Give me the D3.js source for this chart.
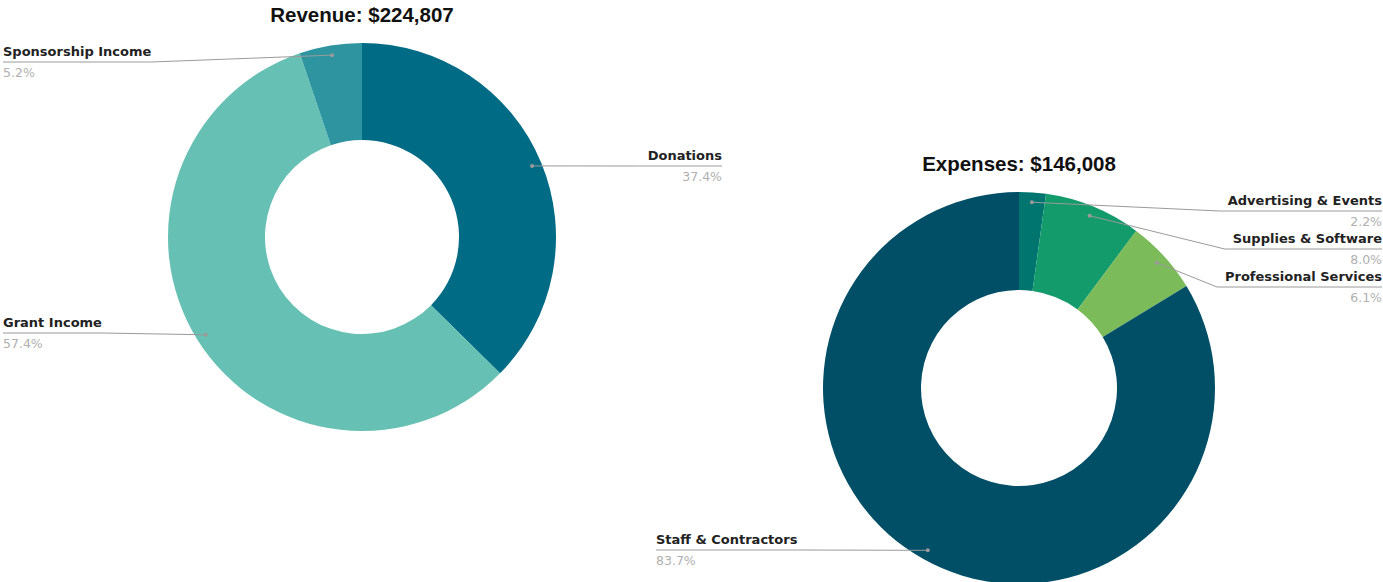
<!DOCTYPE html>
<html>
<head>
  <title>Revenue and expenses</title>
  <script src="https://d3js.org/d3.v7.min.js"></script>
  <style>
    body { margin: 0; background: #fff; }
    text { font-family: "DejaVu Sans", Verdana, sans-serif; }
    text.title { font-family: "Liberation Sans", Arial, sans-serif; }
  </style>
</head>
<body>
<script>
// Revenue (share of total, %)
var revenueLabels = ['Donations', 'Grant Income', 'Sponsorship Income'];
var revenueValues = [37.4, 57.4, 5.2];
var revenueColors = ['#006b85', '#66c0b3', '#2e95a0'];
var revenueTitle = 'Revenue: $224,807';

// Expenses (share of total, %)
var expenseLabels = ['Advertising & Events', 'Supplies & Software', 'Professional Services', 'Staff & Contractors'];
var expenseValues = [2.2, 8.0, 6.1, 83.7];
var expenseColors = ['#00756f', '#139b6b', '#7cbb59', '#004f67'];
var expenseTitle = 'Expenses: $146,008';

var width = 1383,
    height = 582;

var svg = d3.select('body')
  .append('svg')
  .attr('width', width)
  .attr('height', height);

// where each donut sits and where its labels go
var charts = [
  { title: revenueTitle, labels: revenueLabels, values: revenueValues, colors: revenueColors,
    cx: 362, cy: 237, r: 194, titleY: 22,
    // label side and underline y for each slice
    side: ['right', 'left', 'left'], lineY: [166, 333, 62], edgeX: [722, 3, 3] },
  { title: expenseTitle, labels: expenseLabels, values: expenseValues, colors: expenseColors,
    cx: 1019, cy: 388, r: 196, titleY: 171,
    side: ['right', 'right', 'right', 'left'], lineY: [211, 249, 287, 550], edgeX: [1382, 1382, 1382, 656] }
];

charts.forEach(function(c) {
  var g = svg.append('g');

  var pie = d3.pie().sort(null).value(function(d) { return d; });
  var arcs = pie(c.values);

  var arc = d3.arc()
    .innerRadius(c.r * 0.5)
    .outerRadius(c.r);

  var dotArc = d3.arc()
    .innerRadius(c.r * 0.95)
    .outerRadius(c.r * 0.95);

  g.selectAll('path.slice')
    .data(arcs)
    .enter()
    .append('path')
    .attr('class', 'slice')
    .attr('transform', 'translate(' + c.cx + ',' + c.cy + ')')
    .attr('fill', function(d, i) { return c.colors[i]; })
    .attr('d', arc);

  g.append('text')
    .attr('class', 'title')
    .attr('x', c.cx)
    .attr('y', c.titleY)
    .attr('text-anchor', 'middle')
    .attr('font-size', 20.5)
    .attr('font-weight', 'bold')
    .attr('fill', '#111')
    .text(c.title);

  arcs.forEach(function(d, i) {
    var p = dotArc.centroid(d);
    var dx = c.cx + p[0], dy = c.cy + p[1];
    var y = c.lineY[i];
    var right = c.side[i] === 'right';

    var name = g.append('text')
      .attr('x', c.edgeX[i])
      .attr('y', y - 6)
      .attr('text-anchor', right ? 'end' : 'start')
      .attr('font-size', 13)
      .attr('font-weight', 'bold')
      .attr('fill', '#222')
      .text(c.labels[i]);

    g.append('text')
      .attr('x', c.edgeX[i])
      .attr('y', y + 15)
      .attr('text-anchor', right ? 'end' : 'start')
      .attr('font-size', 12.5)
      .attr('fill', '#b0b0b0')
      .text(c.values[i].toFixed(1) + '%');

    var w = name.node().getComputedTextLength();
    var elbow = right ? c.edgeX[i] - w - 8 : c.edgeX[i] + w;
    if (right && elbow < dx) elbow = dx;
    if (!right && elbow > dx) elbow = dx;

    g.append('path')
      .attr('fill', 'none')
      .attr('stroke', '#9a9a9a')
      .attr('stroke-width', 1)
      .attr('d', d3.line()([[dx, dy], [elbow, y], [c.edgeX[i], y]]));

    g.append('circle')
      .attr('cx', dx)
      .attr('cy', dy)
      .attr('r', 2)
      .attr('fill', '#9a9a9a');
  });
});
</script>
</body>
</html>
